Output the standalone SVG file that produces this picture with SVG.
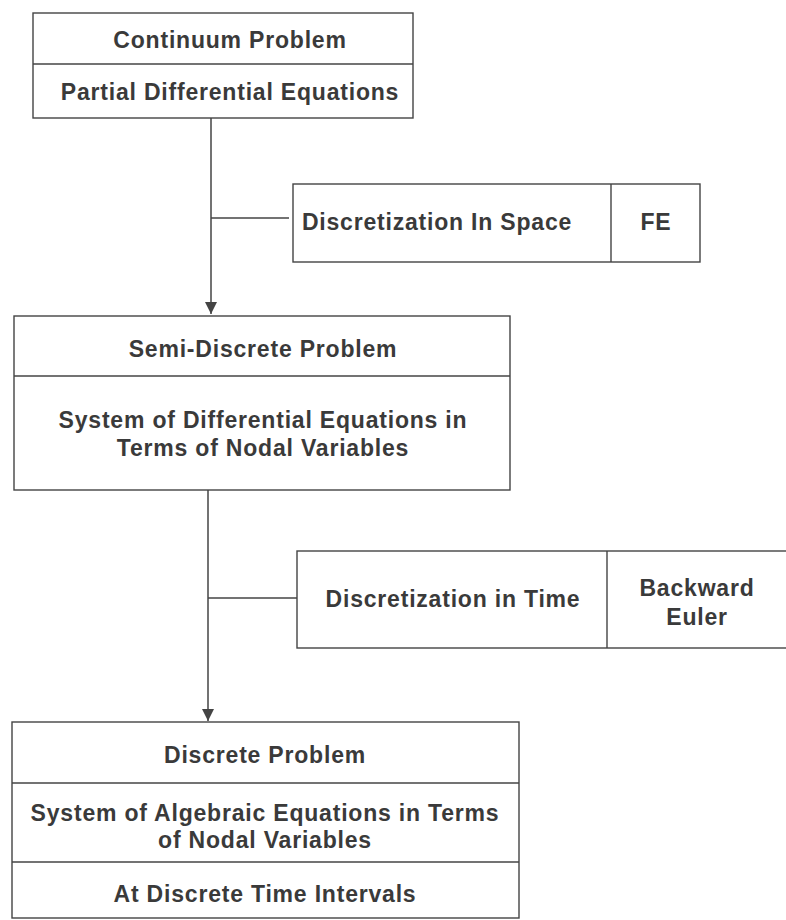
<svg xmlns="http://www.w3.org/2000/svg" width="786" height="920" viewBox="0 0 786 920">
<defs>
<style>
.b { fill: #fff; stroke: #444; stroke-width: 1.4; }
.d { stroke: #444; stroke-width: 1.4; }
.c { stroke: #444; stroke-width: 1.5; fill: none; }
text { font-family: "Liberation Sans", Arial, sans-serif; font-weight: bold; font-size: 23px; letter-spacing: 0.8px; fill: #3a3a3a; text-anchor: middle; }
</style>
<marker id="ah" markerWidth="14" markerHeight="14" refX="12" refY="6" orient="auto" markerUnits="userSpaceOnUse">
<path d="M0,0 L12,6 L0,12 Z" fill="#444"/>
</marker>
</defs>
<rect width="786" height="920" fill="#fff"/>
<g id="connectors">
<line class="c" x1="211" y1="118" x2="211" y2="314" marker-end="url(#ah)"/>
<line class="c" x1="211" y1="218" x2="289" y2="218"/>
<line class="c" x1="208" y1="490" x2="208" y2="721" marker-end="url(#ah)"/>
<line class="c" x1="208" y1="598" x2="297" y2="598"/>
</g>
<g id="continuum">
<rect class="b" x="33" y="13" width="380" height="105"/>
<line class="d" x1="33" y1="64" x2="413" y2="64"/>
<text x="230" y="48">Continuum Problem</text>
<text x="230" y="100">Partial Differential Equations</text>
</g>
<g id="space">
<rect class="b" x="293" y="184" width="407" height="78"/>
<line class="d" x1="611" y1="184" x2="611" y2="262"/>
<text x="437" y="230">Discretization In Space</text>
<text x="656" y="230">FE</text>
</g>
<g id="semidiscrete">
<rect class="b" x="14" y="316" width="496" height="174"/>
<line class="d" x1="14" y1="376" x2="510" y2="376"/>
<text x="263" y="357">Semi-Discrete Problem</text>
<text x="263" y="428">System of Differential Equations in</text>
<text x="263" y="456">Terms of Nodal Variables</text>
</g>
<g id="time">
<rect class="b" x="297" y="551" width="495" height="97"/>
<line class="d" x1="607" y1="551" x2="607" y2="648"/>
<text x="453" y="607">Discretization in Time</text>
<text x="697" y="596">Backward</text>
<text x="697" y="625">Euler</text>
</g>
<g id="discrete">
<rect class="b" x="12" y="722" width="507" height="196"/>
<line class="d" x1="12" y1="783" x2="519" y2="783"/>
<line class="d" x1="12" y1="862" x2="519" y2="862"/>
<text x="265" y="763">Discrete Problem</text>
<text x="265" y="821">System of Algebraic Equations in Terms</text>
<text x="265" y="848">of Nodal Variables</text>
<text x="265" y="902">At Discrete Time Intervals</text>
</g>
</svg>
